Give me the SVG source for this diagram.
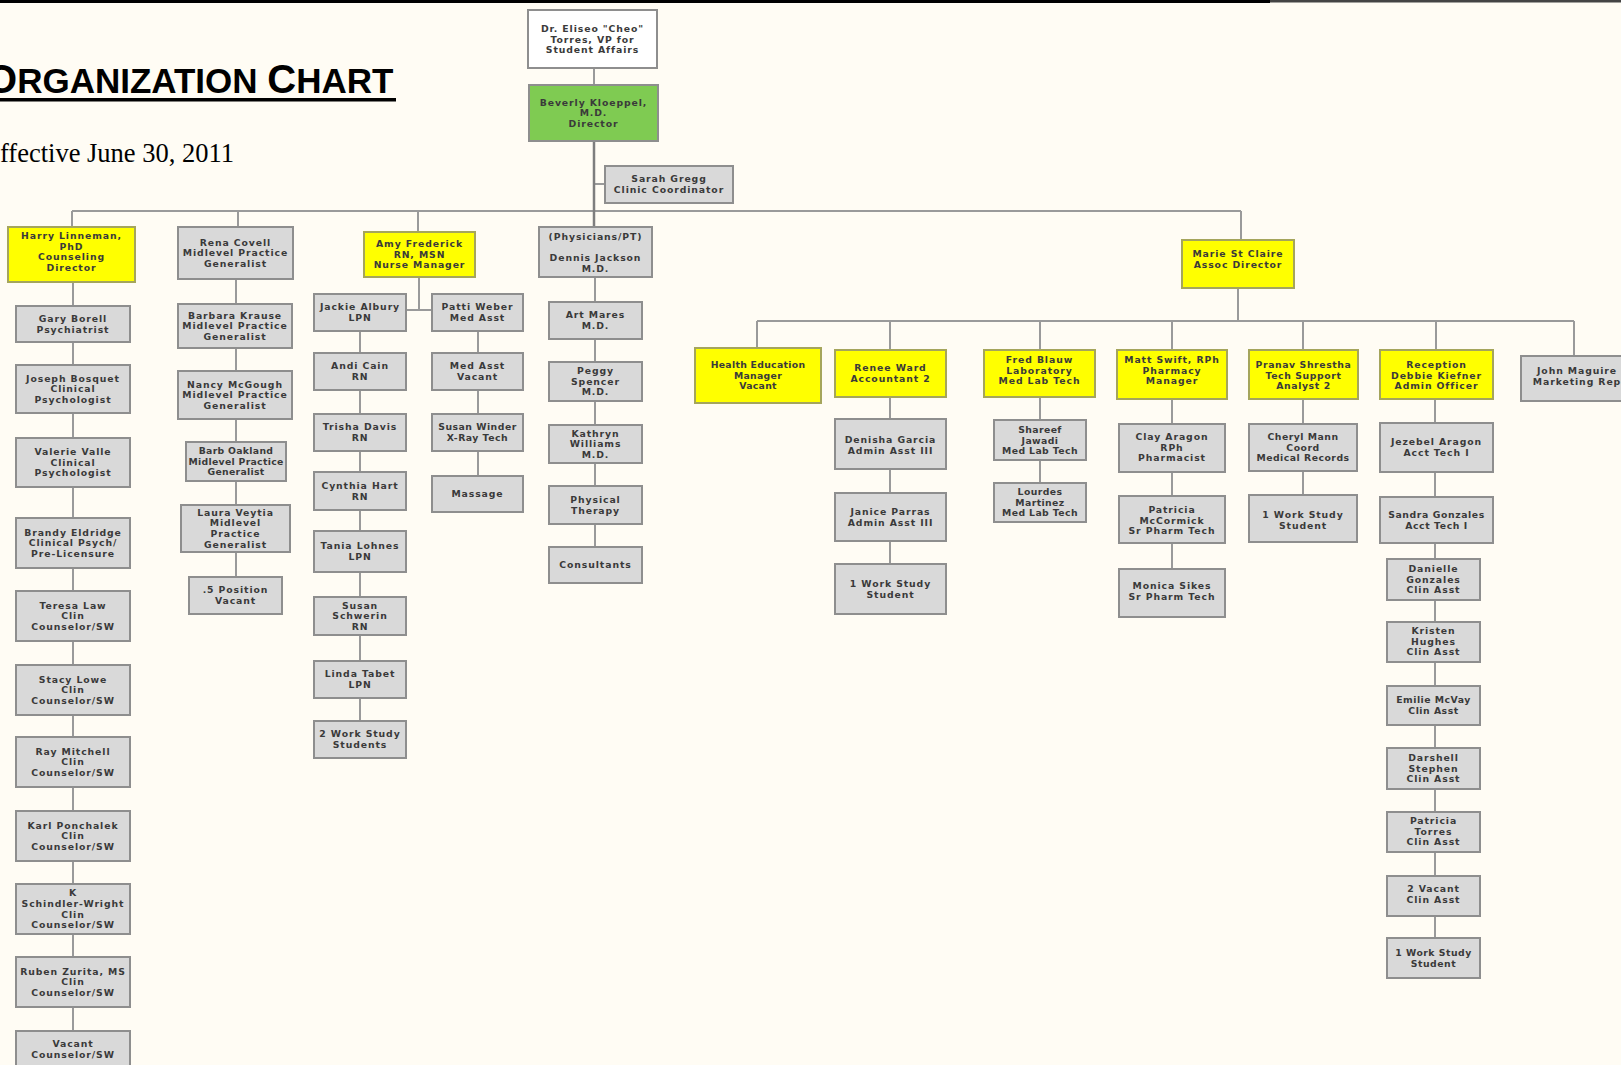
<svg xmlns="http://www.w3.org/2000/svg" width="1621" height="1065" viewBox="0 0 1621 1065">
<style>
.bx{stroke-width:2}
.g{fill:#d9d9d9;stroke:#8e8e8e}
.y{fill:#ffff00;stroke:#a5a55c}
.w{fill:#ffffff;stroke:#8e8e8e}
.gr{fill:#7fcb52;stroke:#8e8e8e}
.t{font-family:"DejaVu Sans",Verdana,sans-serif;font-weight:bold;font-size:9.3px;letter-spacing:0.9px;fill:#3a3a3a;text-anchor:middle}
.ln{stroke:#9a9a9a;stroke-width:2;fill:none}
.ld{stroke:#7e7e7e;stroke-width:2.5;fill:none}
</style>
<rect x="0" y="0" width="1621" height="1065" fill="#fffcf4"/>
<rect x="0" y="0" width="1270" height="3" fill="#000"/>
<rect x="1270" y="0" width="351" height="2.5" fill="#444"/>
<text x="-14" y="93" font-family="Liberation Sans,Arial,sans-serif" font-weight="bold" fill="#000"><tspan font-size="40">O</tspan><tspan font-size="35">RGANIZATION </tspan><tspan font-size="40">C</tspan><tspan font-size="35">HART</tspan></text>
<rect x="0" y="98" width="396" height="3.5" fill="#000"/>
<text x="0" y="162" font-family="Liberation Serif,Times New Roman,serif" font-size="26.5" fill="#000">ffective June 30, 2011</text>

<g id="connectors">
<path class="ln" d="M594 68V85M594 184H605M72 211H1241M72 211V227M238 211V227M418 211V232M1241 211V240"/>
<path class="ld" d="M594 141V227"/>
<path class="ln" d="M73 282V1031M236 279V577M419 277V310M406 310H432M360 331V721M478 331V476M595 277V547"/>
<path class="ln" d="M1238 288V321M757 321H1574M757 321V348M890 321V350M1040 321V350M1172 321V350M1303 321V350M1436 321V350M1574 321V356"/>
<path class="ln" d="M890 397V564M1040 397V483M1172 399V569M1303 399V495M1435 399V938"/>
</g>

<g id="n_vp"><rect class="bx w" x="528" y="10" width="129" height="58"/><text class="t" y="32"><tspan x="592.5">Dr. Eliseo "Cheo"</tspan><tspan x="592.5" dy="10.6">Torres, VP for</tspan><tspan x="592.5" dy="10.6">Student Affairs</tspan></text></g>
<g id="n_director"><rect class="bx gr" x="529" y="85" width="129" height="56"/><text class="t" y="105.5"><tspan x="593.5">Beverly Kloeppel,</tspan><tspan x="593.5" dy="10.6">M.D.</tspan><tspan x="593.5" dy="10.6">Director</tspan></text></g>
<g id="n_sarah"><rect class="bx g" x="605" y="166" width="128" height="37"/><text class="t" y="182.4"><tspan x="669">Sarah Gregg</tspan><tspan x="669" dy="10.6">Clinic Coordinator</tspan></text></g>

<g id="n_harry"><rect class="bx y" x="8" y="227" width="127" height="55"/><text class="t" y="239"><tspan x="71.5">Harry Linneman,</tspan><tspan x="71.5" dy="10.6">PhD</tspan><tspan x="71.5" dy="10.6">Counseling</tspan><tspan x="71.5" dy="10.6">Director</tspan></text></g>
<g id="n_gary"><rect class="bx g" x="16" y="306" width="114" height="36"/><text class="t" y="321.9"><tspan x="73">Gary Borell</tspan><tspan x="73" dy="10.6">Psychiatrist</tspan></text></g>
<g id="n_joseph"><rect class="bx g" x="16" y="365" width="114" height="48"/><text class="t" y="381.6"><tspan x="73">Joseph Bosquet</tspan><tspan x="73" dy="10.6">Clinical</tspan><tspan x="73" dy="10.6">Psychologist</tspan></text></g>
<g id="n_valerie"><rect class="bx g" x="16" y="438" width="114" height="49"/><text class="t" y="455.1"><tspan x="73">Valerie Valle</tspan><tspan x="73" dy="10.6">Clinical</tspan><tspan x="73" dy="10.6">Psychologist</tspan></text></g>
<g id="n_brandy"><rect class="bx g" x="16" y="518" width="114" height="50"/><text class="t" y="535.6"><tspan x="73">Brandy Eldridge</tspan><tspan x="73" dy="10.6">Clinical Psych/</tspan><tspan x="73" dy="10.6">Pre-Licensure</tspan></text></g>
<g id="n_teresa"><rect class="bx g" x="16" y="591" width="114" height="50"/><text class="t" y="608.6"><tspan x="73">Teresa Law</tspan><tspan x="73" dy="10.6">Clin</tspan><tspan x="73" dy="10.6">Counselor/SW</tspan></text></g>
<g id="n_stacy"><rect class="bx g" x="16" y="665" width="114" height="50"/><text class="t" y="682.6"><tspan x="73">Stacy Lowe</tspan><tspan x="73" dy="10.6">Clin</tspan><tspan x="73" dy="10.6">Counselor/SW</tspan></text></g>
<g id="n_ray"><rect class="bx g" x="16" y="737" width="114" height="50"/><text class="t" y="754.6"><tspan x="73">Ray Mitchell</tspan><tspan x="73" dy="10.6">Clin</tspan><tspan x="73" dy="10.6">Counselor/SW</tspan></text></g>
<g id="n_karl"><rect class="bx g" x="16" y="811" width="114" height="50"/><text class="t" y="828.6"><tspan x="73">Karl Ponchalek</tspan><tspan x="73" dy="10.6">Clin</tspan><tspan x="73" dy="10.6">Counselor/SW</tspan></text></g>
<g id="n_schindler"><rect class="bx g" x="16" y="884" width="114" height="50"/><text class="t" y="896.3"><tspan x="73">K</tspan><tspan x="73" dy="10.6">Schindler-Wright</tspan><tspan x="73" dy="10.6">Clin</tspan><tspan x="73" dy="10.6">Counselor/SW</tspan></text></g>
<g id="n_ruben"><rect class="bx g" x="16" y="957" width="114" height="50"/><text class="t" y="974.6"><tspan x="73">Ruben Zurita, MS</tspan><tspan x="73" dy="10.6">Clin</tspan><tspan x="73" dy="10.6">Counselor/SW</tspan></text></g>
<g id="n_vacant_sw"><rect class="bx g" x="16" y="1031" width="114" height="44"/><text class="t" y="1047"><tspan x="73">Vacant</tspan><tspan x="73" dy="10.6">Counselor/SW</tspan></text></g>

<g id="n_rena"><rect class="bx g" x="178" y="227" width="115" height="52"/><text class="t" y="245.6"><tspan x="235.5">Rena Covell</tspan><tspan x="235.5" dy="10.6">Midlevel Practice</tspan><tspan x="235.5" dy="10.6">Generalist</tspan></text></g>
<g id="n_barbara"><rect class="bx g" x="178" y="304" width="114" height="44"/><text class="t" y="318.6"><tspan x="235">Barbara Krause</tspan><tspan x="235" dy="10.6">Midlevel Practice</tspan><tspan x="235" dy="10.6">Generalist</tspan></text></g>
<g id="n_nancy"><rect class="bx g" x="178" y="371" width="114" height="48"/><text class="t" y="387.6"><tspan x="235">Nancy McGough</tspan><tspan x="235" dy="10.6">Midlevel Practice</tspan><tspan x="235" dy="10.6">Generalist</tspan></text></g>
<g id="n_barb"><rect class="bx g" x="186" y="442" width="100" height="39"/><text class="t" y="454.1" style="letter-spacing:0.3px"><tspan x="236">Barb Oakland</tspan><tspan x="236" dy="10.6">Midlevel Practice</tspan><tspan x="236" dy="10.6">Generalist</tspan></text></g>
<g id="n_laura"><rect class="bx g" x="181" y="505" width="109" height="47"/><text class="t" y="515.8"><tspan x="235.5">Laura Veytia</tspan><tspan x="235.5" dy="10.6">Midlevel</tspan><tspan x="235.5" dy="10.6">Practice</tspan><tspan x="235.5" dy="10.6">Generalist</tspan></text></g>
<g id="n_half"><rect class="bx g" x="189" y="577" width="93" height="37"/><text class="t" y="593.4"><tspan x="235.5">.5 Position</tspan><tspan x="235.5" dy="10.6">Vacant</tspan></text></g>

<g id="n_amy"><rect class="bx y" x="364" y="232" width="111" height="45"/><text class="t" y="247.1"><tspan x="419.5">Amy Frederick</tspan><tspan x="419.5" dy="10.6">RN, MSN</tspan><tspan x="419.5" dy="10.6">Nurse Manager</tspan></text></g>
<g id="n_jackie"><rect class="bx g" x="314" y="294" width="92" height="37"/><text class="t" y="310.4"><tspan x="360">Jackie Albury</tspan><tspan x="360" dy="10.6">LPN</tspan></text></g>
<g id="n_andi"><rect class="bx g" x="314" y="353" width="92" height="37"/><text class="t" y="369.4"><tspan x="360">Andi Cain</tspan><tspan x="360" dy="10.6">RN</tspan></text></g>
<g id="n_trisha"><rect class="bx g" x="314" y="414" width="92" height="37"/><text class="t" y="430.4"><tspan x="360">Trisha Davis</tspan><tspan x="360" dy="10.6">RN</tspan></text></g>
<g id="n_cynthia"><rect class="bx g" x="314" y="472" width="92" height="38"/><text class="t" y="488.9"><tspan x="360">Cynthia Hart</tspan><tspan x="360" dy="10.6">RN</tspan></text></g>
<g id="n_tania"><rect class="bx g" x="314" y="531" width="92" height="41"/><text class="t" y="549.4"><tspan x="360">Tania Lohnes</tspan><tspan x="360" dy="10.6">LPN</tspan></text></g>
<g id="n_schwerin"><rect class="bx g" x="314" y="597" width="92" height="38"/><text class="t" y="608.6"><tspan x="360">Susan</tspan><tspan x="360" dy="10.6">Schwerin</tspan><tspan x="360" dy="10.6">RN</tspan></text></g>
<g id="n_linda"><rect class="bx g" x="314" y="661" width="92" height="37"/><text class="t" y="677.4"><tspan x="360">Linda Tabet</tspan><tspan x="360" dy="10.6">LPN</tspan></text></g>
<g id="n_ws2"><rect class="bx g" x="314" y="721" width="92" height="37"/><text class="t" y="737.4"><tspan x="360">2 Work Study</tspan><tspan x="360" dy="10.6">Students</tspan></text></g>
<g id="n_patti"><rect class="bx g" x="432" y="294" width="91" height="37"/><text class="t" y="310.4"><tspan x="477.5">Patti Weber</tspan><tspan x="477.5" dy="10.6">Med Asst</tspan></text></g>
<g id="n_medasst"><rect class="bx g" x="432" y="353" width="91" height="37"/><text class="t" y="369.4"><tspan x="477.5">Med Asst</tspan><tspan x="477.5" dy="10.6">Vacant</tspan></text></g>
<g id="n_winder"><rect class="bx g" x="432" y="414" width="91" height="37"/><text class="t" y="430.4" style="letter-spacing:0.5px"><tspan x="477.5">Susan Winder</tspan><tspan x="477.5" dy="10.6">X-Ray Tech</tspan></text></g>
<g id="n_massage"><rect class="bx g" x="432" y="476" width="91" height="36"/><text class="t" y="497.2"><tspan x="477.5">Massage</tspan></text></g>

<g id="n_physicians"><rect class="bx g" x="539" y="227" width="113" height="50"/><text class="t" y="240"><tspan x="595.5">(Physicians/PT)</tspan><tspan x="595.5" dy="21.2">Dennis Jackson</tspan><tspan x="595.5" dy="10.6">M.D.</tspan></text></g>
<g id="n_art"><rect class="bx g" x="549" y="302" width="93" height="37"/><text class="t" y="318.4"><tspan x="595.5">Art Mares</tspan><tspan x="595.5" dy="10.6">M.D.</tspan></text></g>
<g id="n_peggy"><rect class="bx g" x="549" y="362" width="93" height="39"/><text class="t" y="374.1"><tspan x="595.5">Peggy</tspan><tspan x="595.5" dy="10.6">Spencer</tspan><tspan x="595.5" dy="10.6">M.D.</tspan></text></g>
<g id="n_kathryn"><rect class="bx g" x="549" y="425" width="93" height="38"/><text class="t" y="436.6"><tspan x="595.5">Kathryn</tspan><tspan x="595.5" dy="10.6">Williams</tspan><tspan x="595.5" dy="10.6">M.D.</tspan></text></g>
<g id="n_pt"><rect class="bx g" x="549" y="486" width="93" height="38"/><text class="t" y="502.9"><tspan x="595.5">Physical</tspan><tspan x="595.5" dy="10.6">Therapy</tspan></text></g>
<g id="n_consult"><rect class="bx g" x="549" y="547" width="93" height="36"/><text class="t" y="568.2"><tspan x="595.5">Consultants</tspan></text></g>

<g id="n_marie"><rect class="bx y" x="1182" y="240" width="112" height="48"/><text class="t" y="257"><tspan x="1238">Marie St Claire</tspan><tspan x="1238" dy="10.6">Assoc Director</tspan></text></g>
<g id="n_healthed"><rect class="bx y" x="695" y="348" width="126" height="55"/><text class="t" y="368.1" style="letter-spacing:0.3px"><tspan x="758">Health Education</tspan><tspan x="758" dy="10.6">Manager</tspan><tspan x="758" dy="10.6">Vacant</tspan></text></g>
<g id="n_renee"><rect class="bx y" x="835" y="350" width="111" height="47"/><text class="t" y="371.4"><tspan x="890.5">Renee Ward</tspan><tspan x="890.5" dy="10.6">Accountant 2</tspan></text></g>
<g id="n_fred"><rect class="bx y" x="984" y="350" width="111" height="47"/><text class="t" y="363"><tspan x="1039.5">Fred Blauw</tspan><tspan x="1039.5" dy="10.6">Laboratory</tspan><tspan x="1039.5" dy="10.6">Med Lab Tech</tspan></text></g>
<g id="n_matt"><rect class="bx y" x="1117" y="350" width="110" height="49"/><text class="t" y="363"><tspan x="1172">Matt Swift, RPh</tspan><tspan x="1172" dy="10.6">Pharmacy</tspan><tspan x="1172" dy="10.6">Manager</tspan></text></g>
<g id="n_pranav"><rect class="bx y" x="1249" y="350" width="109" height="49"/><text class="t" y="368" style="letter-spacing:0.6px"><tspan x="1303.5">Pranav Shrestha</tspan><tspan x="1303.5" dy="10.6">Tech Support</tspan><tspan x="1303.5" dy="10.6">Analyst 2</tspan></text></g>
<g id="n_reception"><rect class="bx y" x="1380" y="350" width="113" height="49"/><text class="t" y="368"><tspan x="1436.5">Reception</tspan><tspan x="1436.5" dy="10.6">Debbie Kiefner</tspan><tspan x="1436.5" dy="10.6">Admin Officer</tspan></text></g>
<g id="n_john"><rect class="bx g" x="1521" y="356" width="112" height="45"/><text class="t" y="374"><tspan x="1577">John Maguire</tspan><tspan x="1577" dy="10.6">Marketing Rep</tspan></text></g>

<g id="n_denisha"><rect class="bx g" x="835" y="419" width="111" height="50"/><text class="t" y="443"><tspan x="890.5">Denisha Garcia</tspan><tspan x="890.5" dy="10.6">Admin Asst III</tspan></text></g>
<g id="n_janice"><rect class="bx g" x="835" y="493" width="111" height="48"/><text class="t" y="515"><tspan x="890.5">Janice Parras</tspan><tspan x="890.5" dy="10.6">Admin Asst III</tspan></text></g>
<g id="n_ws_acct"><rect class="bx g" x="835" y="564" width="111" height="50"/><text class="t" y="587"><tspan x="890.5">1 Work Study</tspan><tspan x="890.5" dy="10.6">Student</tspan></text></g>
<g id="n_shareef"><rect class="bx g" x="994" y="420" width="92" height="40"/><text class="t" y="433" style="letter-spacing:0.4px"><tspan x="1040">Shareef</tspan><tspan x="1040" dy="10.6">Jawadi</tspan><tspan x="1040" dy="10.6">Med Lab Tech</tspan></text></g>
<g id="n_lourdes"><rect class="bx g" x="994" y="483" width="92" height="39"/><text class="t" y="495" style="letter-spacing:0.4px"><tspan x="1040">Lourdes</tspan><tspan x="1040" dy="10.6">Martinez</tspan><tspan x="1040" dy="10.6">Med Lab Tech</tspan></text></g>
<g id="n_clay"><rect class="bx g" x="1119" y="424" width="106" height="48"/><text class="t" y="440"><tspan x="1172">Clay Aragon</tspan><tspan x="1172" dy="10.6">RPh</tspan><tspan x="1172" dy="10.6">Pharmacist</tspan></text></g>
<g id="n_mccormick"><rect class="bx g" x="1119" y="496" width="106" height="47"/><text class="t" y="513"><tspan x="1172">Patricia</tspan><tspan x="1172" dy="10.6">McCormick</tspan><tspan x="1172" dy="10.6">Sr Pharm Tech</tspan></text></g>
<g id="n_monica"><rect class="bx g" x="1119" y="569" width="106" height="48"/><text class="t" y="589"><tspan x="1172">Monica Sikes</tspan><tspan x="1172" dy="10.6">Sr Pharm Tech</tspan></text></g>
<g id="n_cheryl"><rect class="bx g" x="1249" y="424" width="108" height="47"/><text class="t" y="440" style="letter-spacing:0.5px"><tspan x="1303">Cheryl Mann</tspan><tspan x="1303" dy="10.6">Coord</tspan><tspan x="1303" dy="10.6">Medical Records</tspan></text></g>
<g id="n_ws_tech"><rect class="bx g" x="1249" y="495" width="108" height="47"/><text class="t" y="518"><tspan x="1303">1 Work Study</tspan><tspan x="1303" dy="10.6">Student</tspan></text></g>
<g id="n_jezebel"><rect class="bx g" x="1380" y="423" width="113" height="49"/><text class="t" y="445"><tspan x="1436.5">Jezebel Aragon</tspan><tspan x="1436.5" dy="10.6">Acct Tech I</tspan></text></g>
<g id="n_sandra"><rect class="bx g" x="1380" y="497" width="113" height="46"/><text class="t" y="518" style="letter-spacing:0.6px"><tspan x="1436.5">Sandra Gonzales</tspan><tspan x="1436.5" dy="10.6">Acct Tech I</tspan></text></g>
<g id="n_danielle"><rect class="bx g" x="1387" y="559" width="93" height="41"/><text class="t" y="572"><tspan x="1433.5">Danielle</tspan><tspan x="1433.5" dy="10.6">Gonzales</tspan><tspan x="1433.5" dy="10.6">Clin Asst</tspan></text></g>
<g id="n_kristen"><rect class="bx g" x="1387" y="622" width="93" height="40"/><text class="t" y="634"><tspan x="1433.5">Kristen</tspan><tspan x="1433.5" dy="10.6">Hughes</tspan><tspan x="1433.5" dy="10.6">Clin Asst</tspan></text></g>
<g id="n_emilie"><rect class="bx g" x="1387" y="686" width="93" height="39"/><text class="t" y="703" style="letter-spacing:0.5px"><tspan x="1433.5">Emilie McVay</tspan><tspan x="1433.5" dy="10.6">Clin Asst</tspan></text></g>
<g id="n_darshell"><rect class="bx g" x="1387" y="748" width="93" height="41"/><text class="t" y="761"><tspan x="1433.5">Darshell</tspan><tspan x="1433.5" dy="10.6">Stephen</tspan><tspan x="1433.5" dy="10.6">Clin Asst</tspan></text></g>
<g id="n_torres"><rect class="bx g" x="1387" y="812" width="93" height="40"/><text class="t" y="824"><tspan x="1433.5">Patricia</tspan><tspan x="1433.5" dy="10.6">Torres</tspan><tspan x="1433.5" dy="10.6">Clin Asst</tspan></text></g>
<g id="n_vacant_ca"><rect class="bx g" x="1387" y="876" width="93" height="40"/><text class="t" y="892"><tspan x="1433.5">2 Vacant</tspan><tspan x="1433.5" dy="10.6">Clin Asst</tspan></text></g>
<g id="n_ws_rec"><rect class="bx g" x="1387" y="938" width="93" height="40"/><text class="t" y="956" style="letter-spacing:0.5px"><tspan x="1433.5">1 Work Study</tspan><tspan x="1433.5" dy="10.6">Student</tspan></text></g>
</svg>
